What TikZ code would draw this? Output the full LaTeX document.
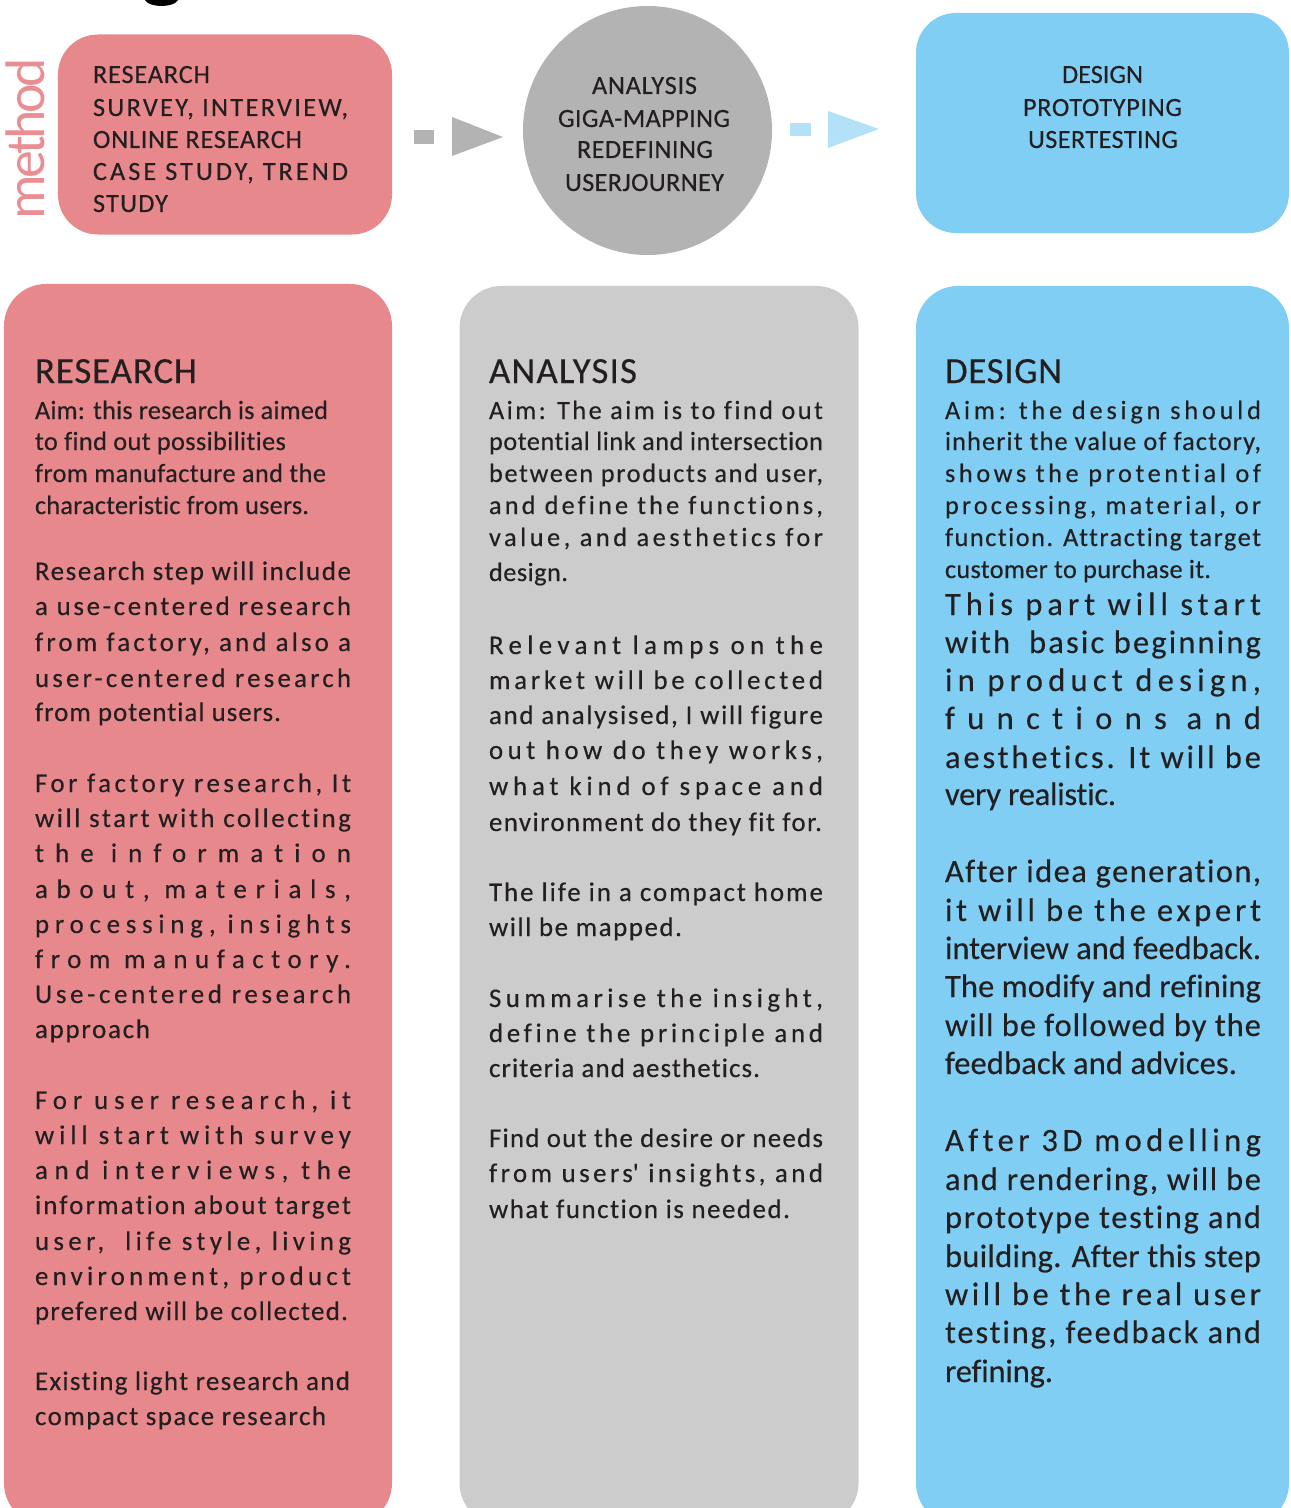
\documentclass[tikz,border=0pt]{standalone}
\usepackage{fontspec}
\setmainfont{Carlito}[Ligatures=NoCommon, FakeBold=0.3]
\usetikzlibrary{calc}
\definecolor{rpink}{HTML}{E6888C}
\definecolor{mpink}{HTML}{E98F93}
\definecolor{agrey}{HTML}{B3B3B3}
\definecolor{cgrey}{HTML}{CCCCCC}
\definecolor{dblue}{HTML}{80CEF3}
\definecolor{lblue}{HTML}{B3E1F7}
\definecolor{ink}{HTML}{231F20}
\newcommand\jl[2]{%
  \setbox0=\hbox{#2}%
  \setbox2=\hbox{\addfontfeature{LetterSpace=10}#2}%
  \pgfmathsetmacro\jlls{10*(#1-\the\wd0)/(\the\wd2-\the\wd0)}%
  \hbox to #1{\addfontfeature{LetterSpace=\jlls}#2\hss}}
\newcommand\fHead{\fontsize{37}{42}\selectfont}
\newcommand\fAim{\fontsize{26.4}{30}\selectfont}
\newcommand\fBody{\fontsize{27}{31}\selectfont}
\newcommand\fBig{\fontsize{32.6}{37}\selectfont}
\newcommand\fMeth{\fontsize{56}{62}\selectfont}
\newcommand\putl[6]{\node[tline,font=#5] (#1) at (#2,#3) {\jl{#4bp}{#6}};}
\tikzset{
  tline/.style={anchor=base west, inner sep=0pt, outer sep=0pt, text=ink},
  topbox/.style={rectangle, rounded corners=40bp, inner sep=0pt, draw=none},
  colbox/.style={rectangle, rounded corners=42bp, inner sep=0pt, draw=none},
}
\begin{document}
\begin{tikzpicture}[x=1bp,y=-1bp]
\useasboundingbox (0,0) rectangle (1290,1508);
\clip (0,0) rectangle (1290,1508);
\fill[white] (0,0) rectangle (1290,1508);
% fragment of cut-off title letter
\fill[black] (145,0) .. controls (149,8) and (174,8) .. (178,0) -- cycle;

% top row
\node[topbox, fill=rpink, minimum width=334bp, minimum height=200bp] (rtop) at (225,134.5) {};
\node[circle, fill=agrey, minimum size=249bp, inner sep=0pt] (atop) at (647.5,130.5) {};
\node[topbox, fill=dblue, minimum width=373bp, minimum height=220bp] (dtop) at (1102.5,123) {};

% arrows
\fill[agrey] (414,130) rectangle (434,144);
\fill[agrey] (452,117) -- (503,137) -- (452,156) -- cycle;
\fill[lblue] (790,123) rectangle (811,136);
\fill[lblue] (828,111) -- (879,129) -- (828,148) -- cycle;

% method label
\node[anchor=base west, inner sep=0pt, rotate=90, text=mpink, font=\fMeth\addfontfeature{FakeBold=0}] (meth) at (44,220) {\jl{162bp}{method}};

% top box texts
\putl{t1}{93}{83}{117}{\fAim}{RESEARCH}
\putl{t2}{93}{116}{255}{\fAim}{SURVEY, INTERVIEW,}
\putl{t3}{93}{148}{209}{\fAim}{ONLINE RESEARCH}
\putl{t4}{93}{180}{255}{\fAim}{CASE STUDY, TREND}
\putl{t5}{93}{212}{75}{\fAim}{STUDY}
\putl{c1}{592}{94}{105}{\fAim}{ANALYSIS}
\putl{c2}{558}{127}{172}{\fAim}{GIGA-MAPPING}
\putl{c3}{577}{158}{136}{\fAim}{REDEFINING}
\putl{c4}{565}{191}{159}{\fAim}{USERJOURNEY}
\putl{d1}{1062}{83}{81}{\fAim}{DESIGN}
\putl{d2}{1023}{116}{159}{\fAim}{PROTOTYPING}
\putl{d3}{1028}{148}{150}{\fAim}{USERTESTING}

% columns
\node[colbox, fill=rpink, minimum width=388bp, minimum height=1241bp] (rcol) at (198,904.5) {};
\node[colbox, fill=cgrey, minimum width=399bp, minimum height=1239bp] (acol) at (659,905.5) {};
\node[colbox, fill=dblue, minimum width=373bp, minimum height=1239bp] (dcol) at (1102.5,905.5) {};

% research column
\putl{rh}{35}{383}{162}{\fHead}{RESEARCH}
\putl{ra1}{35}{419}{293}{\fAim}{Aim: this research is aimed}
\putl{ra2}{35}{450}{251}{\fAim}{to find out possibilities}
\putl{ra3}{35}{482}{291}{\fAim}{from manufacture and the}
\putl{ra4}{35}{514}{274}{\fAim}{characteristic from users.}
\putl{rb1}{35}{580}{316}{\fBody}{Research step will include}
\putl{rb2}{35}{615}{316}{\fBody}{a use-centered research}
\putl{rb3}{35}{651}{316}{\fBody}{from factory, and also a}
\putl{rb4}{35}{687}{316}{\fBody}{user-centered research}
\putl{rb5}{35}{721}{246}{\fBody}{from potential users.}
\putl{rc1}{35}{792}{316}{\fBody}{For factory research, It}
\putl{rc2}{35}{827}{316}{\fBody}{will start with collecting}
\putl{rc3}{35}{862}{316}{\fBody}{the information}
\putl{rc4}{35}{898}{316}{\fBody}{about, materials,}
\putl{rc5}{35}{933}{316}{\fBody}{processing, insights}
\putl{rc6}{35}{968}{316}{\fBody}{from manufactory.}
\putl{rc7}{35}{1003}{316}{\fBody}{Use-centered research}
\putl{rc8}{35}{1038}{115}{\fBody}{approach}
\putl{rd1}{35}{1109}{316}{\fBody}{For user research, it}
\putl{rd2}{35}{1144}{316}{\fBody}{will start with survey}
\putl{rd3}{35}{1179}{316}{\fBody}{and interviews, the}
\putl{rd4}{35}{1214}{316}{\fBody}{information about target}
\putl{rd5}{35}{1250}{316}{\fBody}{user,\ \ life style, living}
\putl{rd6}{35}{1285}{316}{\fBody}{environment, product}
\putl{rd7}{35}{1320}{313}{\fBody}{prefered will be collected.}
\putl{re1}{35}{1390}{315}{\fBody}{Existing light research and}
\putl{re2}{35}{1425}{291}{\fBody}{compact space research}

% analysis column
\putl{ah}{489}{383}{148}{\fHead}{ANALYSIS}
\putl{aa1}{489}{419}{334}{\fAim}{Aim: The aim is to find out}
\putl{aa2}{489}{450}{334}{\fAim}{potential link and intersection}
\putl{aa3}{489}{482}{334}{\fAim}{between products and user,}
\putl{aa4}{489}{514}{334}{\fAim}{and define the functions,}
\putl{aa5}{489}{546}{334}{\fAim}{value, and aesthetics for}
\putl{aa6}{489}{581}{79}{\fAim}{design.}
\putl{ab1}{489}{654}{334}{\fBody}{Relevant lamps on the}
\putl{ab2}{489}{689}{334}{\fBody}{market will be collected}
\putl{ab3}{489}{724}{334}{\fBody}{and analysised, I will figure}
\putl{ab4}{489}{759}{334}{\fBody}{out how do they works,}
\putl{ab5}{489}{795}{334}{\fBody}{what kind of space and}
\putl{ab6}{489}{831}{333}{\fBody}{environment do they fit for.}
\putl{ac1}{489}{901}{334}{\fBody}{The life in a compact home}
\putl{ac2}{489}{936}{193}{\fBody}{will be mapped.}
\putl{ad1}{489}{1007}{334}{\fBody}{Summarise the insight,}
\putl{ad2}{489}{1042}{334}{\fBody}{define the principle and}
\putl{ad3}{489}{1077}{271}{\fBody}{criteria and aesthetics.}
\putl{ae1}{489}{1147}{334}{\fBody}{Find out the desire or needs}
\putl{ae2}{489}{1182}{334}{\fBody}{from users\textquotesingle{} insights, and}
\putl{ae3}{489}{1218}{301}{\fBody}{what function is needed.}

% design column
\putl{dh}{945}{383}{117}{\fHead}{DESIGN}
\putl{da1}{945}{419}{316}{\fAim}{Aim: the design should}
\putl{da2}{945}{450}{316}{\fAim}{inherit the value of factory,}
\putl{da3}{945}{482}{316}{\fAim}{shows the protential of}
\putl{da4}{945}{514}{316}{\fAim}{processing, material, or}
\putl{da5}{945}{546}{316}{\fAim}{function. Attracting target}
\putl{da6}{945}{578}{266}{\fAim}{customer to purchase it.}
\putl{db1}{945}{615}{316}{\fBig}{This part will start}
\putl{db2}{945}{653}{316}{\fBig}{with\ \ basic beginning}
\putl{db3}{945}{691}{316}{\fBig}{in product design,}
\putl{db4}{945}{729}{316}{\fBig}{functions and}
\putl{db5}{945}{768}{316}{\fBig}{aesthetics. It will be}
\putl{db6}{945}{805}{171}{\fBig}{very realistic.}
\putl{dc1}{945}{882}{316}{\fBig}{After idea generation,}
\putl{dc2}{945}{921}{316}{\fBig}{it will be the expert}
\putl{dc3}{945}{959}{316}{\fBig}{interview and feedback.}
\putl{dc4}{945}{997}{316}{\fBig}{The modify and refining}
\putl{dc5}{945}{1036}{316}{\fBig}{will be followed by the}
\putl{dc6}{945}{1074}{292}{\fBig}{feedback and advices.}
\putl{dd1}{945}{1151}{316}{\fBig}{After 3D modelling}
\putl{dd2}{945}{1190}{316}{\fBig}{and rendering, will be}
\putl{dd3}{945}{1228}{316}{\fBig}{prototype testing and}
\putl{dd4}{945}{1267}{316}{\fBig}{building. After this step}
\putl{dd5}{945}{1305}{316}{\fBig}{will be the real user}
\putl{dd6}{945}{1343}{316}{\fBig}{testing, feedback and}
\putl{dd7}{945}{1382}{108}{\fBig}{refining.}
\end{tikzpicture}
\end{document}
